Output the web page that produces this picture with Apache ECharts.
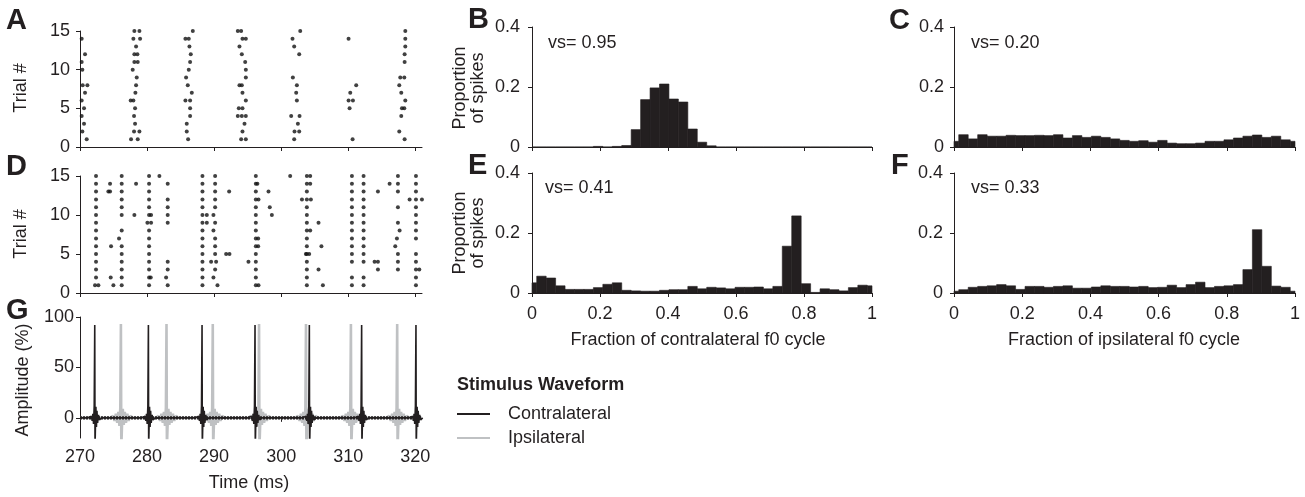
<!DOCTYPE html>
<html><head><meta charset="utf-8">
<script src="https://cdn.jsdelivr.net/npm/echarts@6/dist/echarts.min.js"></script>
<style>html,body{margin:0;padding:0;background:#fff}#c{width:1305px;height:497px}</style>
</head><body><div id="c"></div>
<script>
// ---------------- DATA ----------------
// Raster A: [time (ms), trial #]
var rasterA = [
 [270.25,14],[270.75,12],[270.25,11],[270.35,10],[270.4,8],[271.1,8],[270.75,7],[270.25,6],[270.6,5],[270.25,4],[270.6,3],[270.35,2],[271.0,1],
 [278.11,15],[278.86,15],[277.96,14],[278.96,14],[278.36,13],[278.11,12],[278.56,12],[278.11,11],[278.61,11],[277.86,10],[278.46,9],[278.36,8],[278.26,7],[277.56,6],[277.96,6],[278.21,5],[278.06,4],[278.21,3],[278.06,2],[278.86,2],[277.61,1],[278.61,1],
 [286.82,15],[285.72,14],[286.22,14],[286.32,13],[286.52,12],[286.42,11],[286.22,10],[285.82,9],[286.07,8],[286.67,7],[285.72,6],[286.42,6],[286.42,5],[286.42,4],[285.92,3],[285.92,2],[286.12,1],
 [293.53,15],[294.03,15],[294.23,14],[294.73,14],[293.78,13],[294.13,12],[294.63,11],[294.73,10],[294.73,9],[293.78,8],[294.13,8],[294.23,7],[294.73,6],[293.68,5],[294.23,5],[293.53,4],[294.13,4],[294.73,4],[294.53,3],[294.23,2],[294.03,1],[294.73,1],
 [302.84,15],[301.69,14],[301.94,13],[302.69,12],[301.74,9],[302.34,8],[302.24,7],[302.34,6],[301.49,4],[302.74,4],[302.49,3],[301.99,2],[302.69,2],[301.94,1],
 [310.05,14],[311.19,8],[310.30,7],[310.05,6],[310.70,6],[310.20,5],[310.65,1],
 [318.51,15],[318.51,14],[318.51,13],[318.41,12],[318.41,11],[317.76,9],[318.36,9],[317.61,8],[317.91,7],[318.51,6],[318.01,5],[318.36,5],[317.91,4],[317.61,2],[318.41,1]
];
// Raster D: [time (ms), trial #]
var rasterD = [
 [272.39,15],[272.39,14],[272.39,13],[272.39,12],[272.39,11],[272.39,10],[272.39,9],[272.39,8],[272.39,7],[272.39,6],[272.39,5],[272.39,4],[272.39,3],[272.39,2],[272.24,1],[272.74,1],
 [274.48,14],[274.23,13],[274.48,13],[274.63,6],[274.58,2],[274.98,1],[275.82,7],
 [276.22,15],[276.22,14],[276.22,13],[276.22,12],[276.22,11],[276.22,10],[276.22,8],[276.22,6],[276.22,5],[276.22,4],[276.22,3],[276.22,2],[276.22,1],
 [278.11,10],[278.36,14],
 [280.30,15],[280.30,14],[280.30,13],[280.30,12],[280.30,11],[280.30,10],[280.05,9],[280.30,8],[280.30,7],[280.30,6],[280.30,5],[280.30,4],[280.30,3],[280.30,2],[280.30,1],[280.55,2],[280.6,10],[280.6,9],
 [281.84,15],
 [283.08,14],[283.08,12],[283.08,11],[283.08,10],[283.08,9],[283.08,4],[283.08,3],[282.84,2],[283.08,1],
 [288.26,15],[288.26,14],[288.26,13],[288.26,12],[288.26,11],[288.26,10],[288.26,9],[288.26,8],[288.26,7],[288.26,6],[288.26,5],[288.26,4],[288.26,3],[288.26,2],[288.26,1],
 [288.91,10],[288.91,9],
 [290.15,15],[290.15,14],[290.15,13],[290.15,12],[290.15,11],[289.9,10],[290.15,9],[289.9,8],[290.15,7],[290.15,6],[290.15,5],[289.55,4],[290.3,4],[290.15,3],[289.9,2],[290.5,1],
 [291.79,5],[292.29,5],[292.24,13],[295.12,4],
 [296.22,15],[296.22,14],[296.22,13],[296.22,12],[296.22,11],[296.22,10],[296.22,9],[296.22,8],[296.22,7],[296.22,6],[296.22,5],[296.22,4],[296.22,3],[296.22,2],[296.22,1],
 [296.62,12],[296.57,7],[296.57,6],[296.62,1],[296.45,14],
 [298.11,13],[298.3,11],[298.61,10],[301.34,15],
 [303.83,15],[303.83,14],[303.83,13],[303.83,12],[303.83,11],[303.83,10],[303.83,9],[303.83,8],[303.83,7],[303.83,6],[303.83,5],[303.83,4],[303.83,3],[303.83,2],[303.83,1],
 [304.33,15],[304.33,14],[303.1,12],[304.43,12],[304.33,8],[303.68,5],[304.18,5],
 [305.57,9],[305.57,3],[306.0,6],[306.22,1],
 [310.55,15],[310.55,14],[310.55,13],[310.55,12],[310.55,11],[310.55,10],[310.55,9],[310.55,8],[310.55,7],[310.55,6],[310.55,5],[310.55,4],[310.55,2],[310.55,1],
 [312.29,15],[312.29,14],[312.29,13],[312.29,12],[312.29,11],[312.29,10],[312.29,9],[312.29,8],[312.29,7],[312.29,6],[312.29,5],[312.29,4],[312.29,2],[312.29,1],
 [313.93,4],[314.43,4],[314.43,3],[314.43,13],[316.17,14],[317.01,6],
 [317.41,15],[317.41,14],[317.41,13],[317.41,11],[317.41,9],[317.66,8],[317.26,7],[317.41,5],[317.41,4],[317.41,3],
 [319.15,12],
 [320.10,15],[320.10,14],[320.10,13],[320.10,12],[320.10,11],[320.10,10],[320.10,9],[320.10,8],[320.10,7],[320.10,5],[320.10,4],[320.10,3],[320.10,2],[320.10,1],[320.99,12],[320.6,3]
];
// Stimulus waveform (G): pulse times (ms) and pulse shapes [offset ms, amplitude %]
var contraPulseTimes = [272.2, 280.2, 288.2, 296.1, 304.2, 312.0, 320.1];
var ipsiPulseTimes   = [276.1, 282.9, 289.8, 296.7, 303.7, 310.4, 317.3];
var contraPulseShape = [[-1.0,0],[-0.5,1.5],[-0.38,-3],[-0.28,4],[-0.18,-6],[-0.08,12],[0,92],[0.04,-30],[0.1,-9],[0.17,11],[0.25,-9],[0.33,7],[0.42,-5],[0.55,3],[0.7,-2],[1.0,0]];
var ipsiPulseShape   = [[-1.6,0],[-1.2,2],[-0.95,-3],[-0.75,4],[-0.55,-5],[-0.38,6],[-0.22,-8],[-0.09,10],[0,93],[0.06,-30],[0.15,-10],[0.28,9],[0.42,-7],[0.58,6],[0.75,-5],[0.95,4],[1.15,-3],[1.4,2],[1.8,0]];
var waveRange = [270, 321];
// Histograms: proportion of spikes per bin (37 bins centred at k/36)
var histB = [0,0,0,0,0,0,0,0.002,0,0.002,0.005,0.058,0.158,0.197,0.21,0.16,0.15,0.06,0.016,0.004,0,0,0,0,0,0,0,0,0,0,0,0,0,0,0,0,0];
var histC = [0.019,0.041,0.027,0.041,0.036,0.036,0.039,0.038,0.038,0.039,0.038,0.041,0.030,0.038,0.032,0.036,0.032,0.027,0.022,0.019,0.021,0.016,0.022,0.013,0.011,0.011,0.013,0.019,0.019,0.024,0.030,0.036,0.040,0.032,0.036,0.024,0.019];
var histE = [0.034,0.056,0.05,0.024,0.012,0.012,0.012,0.018,0.029,0.034,0.009,0.007,0.006,0.006,0.009,0.011,0.011,0.022,0.014,0.019,0.017,0.014,0.019,0.019,0.02,0.014,0.022,0.156,0.257,0.031,0.002,0.014,0.011,0.007,0.018,0.026,0.024];
var histF = [0.006,0.011,0.019,0.022,0.024,0.028,0.024,0.012,0.022,0.022,0.019,0.022,0.024,0.016,0.016,0.02,0.024,0.022,0.022,0.02,0.022,0.018,0.019,0.026,0.018,0.028,0.036,0.018,0.022,0.024,0.028,0.078,0.211,0.089,0.023,0.019,0.006];
var vsLabels = {B:'vs= 0.95', C:'vs= 0.20', E:'vs= 0.41', F:'vs= 0.33'};
var timeTicks = [270, 280, 290, 300, 310, 320];
var ampTicks = [0, 50, 100];

// ---------------- BUILD ----------------
var INK = '#231f20', GREY = '#bfc1c3';
var FONT = '"Liberation Sans", Arial, Helvetica, sans-serif';
var FS = 18;
var NBINS = histB.length - 1;
function binData(vals){ return vals.map(function(v,k){ return [k/NBINS, v]; }); }
function buildWave(times, shape){
  var pts = [[waveRange[0],0]];
  times.forEach(function(t){ shape.forEach(function(s){ pts.push([+(t+s[0]).toFixed(3), s[1]]); }); });
  pts.push([waveRange[1],0]);
  return pts;
}
function histRender(params, api){
  var x = api.value(0), y = api.value(1), w = 1/NBINS;
  var p0 = api.coord([x - w/2, y]);
  var p1 = api.coord([x + w/2, 0]);
  var rect = {x:p0[0], y:p0[1], width:p1[0]-p0[0], height:p1[1]-p0[1]};
  var cs = params.coordSys;
  var c = echarts.graphic.clipRectByRect(rect, {x:cs.x, y:cs.y, width:cs.width, height:cs.height});
  if(!c) return null;
  return {type:'rect', shape:c, style:{fill:INK, stroke:INK, lineWidth:0.6}};
}
var axisLine = {show:true, lineStyle:{color:INK, width:1}};
var axisTick = {show:true, inside:false, length:4, lineStyle:{color:INK}};
var lab = {color:INK, fontSize:FS, fontFamily:FONT};

var grids = [
  {left:80, top:31, width:342, height:116},   // A
  {left:80, top:176, width:342, height:117},  // D
  {left:80, top:317, width:342, height:121},  // G
  {left:532, top:27, width:340, height:120},  // B
  {left:954, top:27, width:341, height:120},  // C
  {left:532, top:173, width:340, height:120}, // E
  {left:954, top:173, width:341, height:120}  // F
];
function timeAxis(gi, showLabels){
  return {type:'value', gridIndex:gi, min:270, max:321, splitLine:{show:false},
    axisLine:axisLine, axisTick:Object.assign({customValues:timeTicks}, axisTick),
    axisLabel:Object.assign({show:showLabels, customValues:timeTicks, margin:10}, lab)};
}
function fracAxis(gi, showLabels){
  return {type:'value', gridIndex:gi, min:0, max:1, interval:0.2, splitLine:{show:false},
    axisLine:axisLine, axisTick:axisTick,
    axisLabel:Object.assign({show:showLabels, margin:12}, lab)};
}
function trialAxis(gi){
  return {type:'value', gridIndex:gi, min:0, max:15, interval:5, splitLine:{show:false},
    axisLine:axisLine, axisTick:axisTick, axisLabel:Object.assign({margin:10}, lab)};
}
function propAxis(gi, m){
  return {type:'value', gridIndex:gi, min:0, max:0.4, interval:0.2, splitLine:{show:false},
    axisLine:axisLine, axisTick:axisTick, axisLabel:Object.assign({margin:m}, lab)};
}
var xAxes = [timeAxis(0,false), timeAxis(1,false), timeAxis(2,true), fracAxis(3,false), fracAxis(4,false), fracAxis(5,true), fracAxis(6,true)];
var yAxes = [trialAxis(0), trialAxis(1),
  {type:'value', gridIndex:2, min:-20, max:100, splitLine:{show:false}, axisLine:axisLine,
   axisTick:Object.assign({customValues:ampTicks}, axisTick), axisLabel:Object.assign({customValues:ampTicks, margin:6}, lab)},
  propAxis(3,12), propAxis(4,10), propAxis(5,12), propAxis(6,11)];

function txt(x, y, text, opt){
  opt = opt || {};
  return {type:'text', x:x, y:y, rotation:opt.rot||0, silent:true,
    style:{text:text, fill:INK, font:(opt.weight||'normal')+' '+(opt.size||FS)+'px '+FONT,
      align:opt.align||'center', verticalAlign:'middle'}};
}
var R = Math.PI/2;
var L = {size:29, weight:'bold', align:'left'};
var graphics = [
  txt(6,21,'A',L), txt(6,167,'D',L), txt(6,311,'G',L),
  txt(468,20,'B',L), txt(889,21,'C',L), txt(468,166,'E',L), txt(891,166,'F',L),
  txt(21,88,'Trial #',{rot:R}),
  txt(21,234,'Trial #',{rot:R}),
  txt(23,380,'Amplitude (%)',{rot:R}),
  txt(460,88,'Proportion',{rot:R}),
  txt(478,88,'of spikes',{rot:R}),
  txt(460,233,'Proportion',{rot:R}),
  txt(478,233,'of spikes',{rot:R}),
  txt(548,43,vsLabels.B,{align:'left'}),
  txt(971,43,vsLabels.C,{align:'left'}),
  txt(545,188,vsLabels.E,{align:'left'}),
  txt(971,188,vsLabels.F,{align:'left'}),
  txt(249,483,'Time (ms)'),
  txt(698,340,'Fraction of contralateral f0 cycle'),
  txt(1124,340,'Fraction of ipsilateral f0 cycle'),
  txt(457,385,'Stimulus Waveform',{weight:'bold',align:'left'})
];

var series = [
  {type:'scatter', xAxisIndex:0, yAxisIndex:0, data:rasterA, symbol:'circle', symbolSize:4, itemStyle:{color:'#111'}, silent:true},
  {type:'scatter', xAxisIndex:1, yAxisIndex:1, data:rasterD, symbol:'circle', symbolSize:4, itemStyle:{color:'#111'}, silent:true},
  {type:'line', name:'Ipsilateral', xAxisIndex:2, yAxisIndex:2, data:buildWave(ipsiPulseTimes, ipsiPulseShape), showSymbol:false, symbol:'none',
   lineStyle:{color:GREY, width:2.6}, itemStyle:{color:GREY}, z:2, silent:true},
  {type:'line', name:'contraBaseline', xAxisIndex:2, yAxisIndex:2, data:[[waveRange[0],0],[waveRange[1],0]], showSymbol:false, symbol:'none',
   lineStyle:{color:INK, width:3.2, type:[2,1]}, z:3, silent:true},
  {type:'line', name:'Contralateral', xAxisIndex:2, yAxisIndex:2, data:buildWave(contraPulseTimes, contraPulseShape), showSymbol:false, symbol:'none',
   lineStyle:{color:INK, width:1.6}, itemStyle:{color:INK}, z:4, silent:true},
  {type:'custom', xAxisIndex:3, yAxisIndex:3, data:binData(histB), renderItem:histRender, silent:true},
  {type:'custom', xAxisIndex:4, yAxisIndex:4, data:binData(histC), renderItem:histRender, silent:true},
  {type:'custom', xAxisIndex:5, yAxisIndex:5, data:binData(histE), renderItem:histRender, silent:true},
  {type:'custom', xAxisIndex:6, yAxisIndex:6, data:binData(histF), renderItem:histRender, silent:true}
];

var chart = echarts.init(document.getElementById('c'), null, {renderer:'canvas'});
chart.setOption({
  animation:false,
  backgroundColor:'#fff',
  textStyle:{fontFamily:FONT, color:INK},
  grid:grids, xAxis:xAxes, yAxis:yAxes, series:series,
  legend:{show:true, orient:'vertical', left:457, top:405, padding:0, itemWidth:33, itemHeight:2, itemGap:6,
    data:[{name:'Contralateral', icon:'rect', itemStyle:{color:INK}}, {name:'Ipsilateral', icon:'rect', itemStyle:{color:GREY}}],
    selectedMode:false, textStyle:{color:INK, fontSize:FS, fontFamily:FONT, lineHeight:18, padding:[0,0,0,13]}},
  graphic:graphics
});
</script></body></html>
